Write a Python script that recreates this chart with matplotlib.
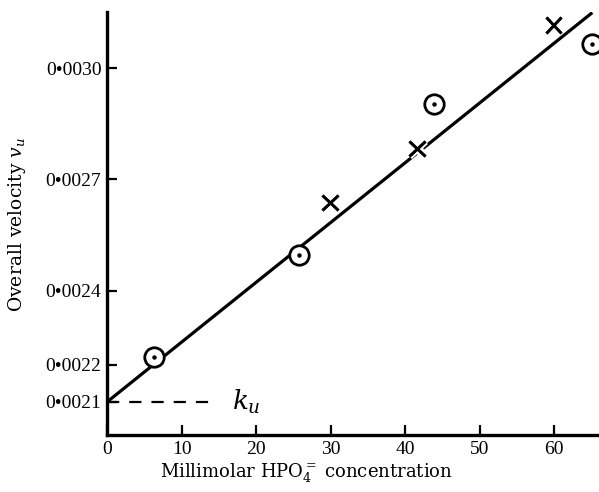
import matplotlib
matplotlib.use("Agg")
import matplotlib.pyplot as plt
import matplotlib.patheffects as pe
import numpy as np

plt.rcParams['font.family'] = ['DejaVu Serif']
plt.rcParams['mathtext.fontset'] = 'dejavuserif'

# Data
circle_x = [6.3, 25.8, 43.8, 65.0]
circle_y = [0.002222, 0.002495, 0.002903, 0.003065]
cross_x = [29.9, 41.6, 59.9]
cross_y = [0.002638, 0.002784, 0.003116]
fit_intercept = 0.0021
fit_slope = 1.612e-5
fit_x = [0.0, 65.1]
ku_x = [0.0, 14.9]
ku_y = 0.0021

xticks = [0, 10, 20, 30, 40, 50, 60]
yticks = [0.0021, 0.0022, 0.0024, 0.0027, 0.0030]
ytick_labels = ['0\u20220021', '0\u20220022', '0\u20220024', '0\u20220027', '0\u20220030']

fig = plt.figure(figsize=(5.99, 4.92), dpi=100)
ax = fig.add_axes([107/599, 1-435/492, 1-107/599, (435-12)/492])
ax.set_xlim(0, 66)
ax.set_ylim(0.002011, 0.003151)

fx = np.array(fit_x)
ax.plot(fx, fit_intercept + fit_slope*fx, color='black', lw=2.3, solid_capstyle='butt', zorder=2)
ax.plot(ku_x, [ku_y, ku_y], color='black', lw=1.6, dashes=(5.5, 4.5), zorder=2)
ax.text(16.8, ku_y, r'$k_u$', fontsize=19, va='center', ha='left')

ax.plot(circle_x, circle_y, ls='none', marker='o', ms=14, mfc='white', mec='black', mew=2.0, zorder=3)
ax.plot(circle_x, circle_y, ls='none', marker='o', ms=2.2, mfc='black', mec='black', zorder=4)
ax.plot(cross_x, cross_y, ls='none', marker='x', ms=11, mec='black', mew=2.0, zorder=3,
        path_effects=[pe.withStroke(linewidth=6, foreground='white'), pe.Normal()])

for s in ['top', 'right']:
    ax.spines[s].set_visible(False)
for s in ['left', 'bottom']:
    ax.spines[s].set_linewidth(2.4)

ax.set_xticks(xticks)
ax.set_xticklabels([str(t) for t in xticks], fontfamily='Liberation Serif', fontsize=14)
ax.set_yticks(yticks)
ax.set_yticklabels(ytick_labels, fontfamily='Liberation Serif', fontsize=14)
ax.tick_params(direction='in', length=7, width=1.6, pad=4)

ax.set_xlabel(r'Millimolar HPO$_4^{=}$ concentration', fontsize=13)
ax.xaxis.set_label_coords((306-107)/492, -(472-435)/423, transform=ax.transAxes)
ax.set_ylabel(r'Overall velocity $v_u$', fontsize=13.5)
ax.yaxis.set_label_coords(-(107-17)/492, (435-225)/423, transform=ax.transAxes)
ax.xaxis.label.set_va('center')
ax.yaxis.label.set_va('center')

fig.savefig('out.png', dpi=100)
